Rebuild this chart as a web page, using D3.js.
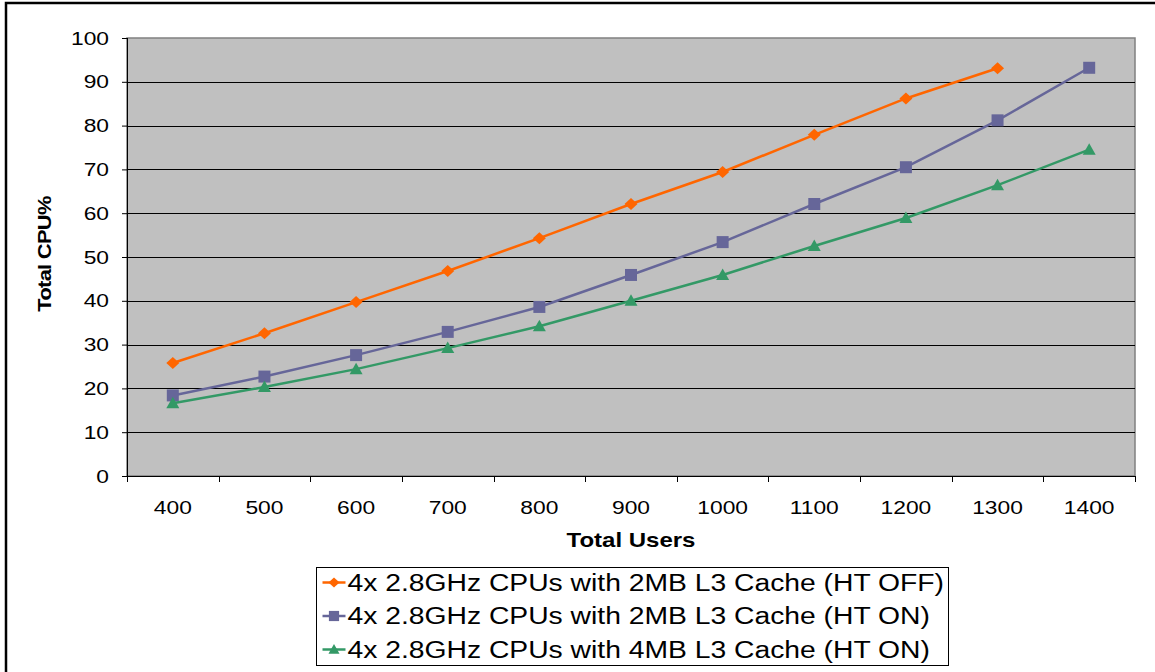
<!DOCTYPE html>
<meta charset="utf-8">
<head>
	<title>Total CPU% vs Total Users</title>
</head>
<style>
	body { margin: 0; background: #fff; }
	svg text { font-family: Arial, "Liberation Sans", sans-serif; fill: #000; }
</style>
<body>
	<svg width="1155" height="672"></svg>
	<script src="https://cdnjs.cloudflare.com/ajax/libs/d3/7.8.5/d3.min.js"></script>
	<script>

		var users = [400, 500, 600, 700, 800, 900, 1000, 1100, 1200, 1300, 1400];
		var yTicks = [0, 10, 20, 30, 40, 50, 60, 70, 80, 90, 100];

		var seriesNames = [
			"4x 2.8GHz CPUs with 2MB L3 Cache (HT OFF)",
			"4x 2.8GHz CPUs with 2MB L3 Cache (HT ON)",
			"4x 2.8GHz CPUs with 4MB L3 Cache (HT ON)"
		];
		var htOff2MB = [25.8, 32.6, 39.7, 46.8, 54.3, 62.1, 69.4, 77.9, 86.2, 93.1, null];
		var htOn2MB  = [18.4, 22.7, 27.6, 32.9, 38.6, 45.9, 53.4, 62.1, 70.5, 81.2, 93.2];
		var htOn4MB  = [16.6, 20.3, 24.4, 29.2, 34.2, 40.0, 45.9, 52.5, 58.9, 66.4, 74.5];

		var colors = ["#ff6600", "#666699", "#339966"];
		// marker shapes: diamond, square, triangle
		var markers = [
			"M0,-6L6.5,0L0,6L-6.5,0Z",
			"M-6,-6H6V6H-6Z",
			"M0,-6.5L6.5,5L-6.5,5Z"
		];

		var svg = d3.select("svg"),
			margin = {top: 38, left: 127},
			width = 1008,
			height = 438,
			sx = 1.2; // the original text is drawn a bit wide

		// outer chart frame (runs past the window edges)
		svg.append("rect")
			.attr("x", 6).attr("y", 3)
			.attr("width", 1300).attr("height", 800)
			.attr("fill", "none")
			.attr("stroke", "#000")
			.attr("stroke-width", 2.5);

		var g = svg.append("g")
			.attr("transform", "translate(" + margin.left + "," + margin.top + ")");

		var x = d3.scaleBand()
			.domain(users)
			.range([0, width]);

		var y = d3.scaleLinear()
			.domain([0, 100])
			.range([height, 0]);

		// plot area
		g.append("rect")
			.attr("width", width)
			.attr("height", height)
			.attr("fill", "#c0c0c0")
			.attr("stroke", "#808080")
			.attr("stroke-width", 1.5);

		// gridlines
		yTicks.slice(1, -1).forEach(function(t) {
			g.append("line")
				.attr("x1", 0).attr("x2", width)
				.attr("y1", Math.round(y(t)) + 0.5).attr("y2", Math.round(y(t)) + 0.5)
				.attr("stroke", "#000")
				.attr("stroke-width", 1);
		});

		// y axis
		var yAxis = g.append("g")
			.call(d3.axisLeft(y).tickValues(yTicks).tickSize(5).tickPadding(10));
		yAxis.attr("font-size", 19).attr("font-family", null);
		yAxis.select(".domain").attr("stroke", "#000").attr("d", "M0.5,0V" + height);
		yAxis.selectAll(".tick line").attr("stroke", "#000");
		yAxis.selectAll("text")
			.attr("fill", "#000")
			.attr("transform", "scale(" + sx + ",1)");

		// x axis (ticks between categories)
		var xAxisG = g.append("g")
			.attr("transform", "translate(0," + height + ")");
		xAxisG.append("line")
			.attr("x1", 0).attr("x2", width)
			.attr("y1", 0.5).attr("y2", 0.5)
			.attr("stroke", "#000");
		d3.range(users.length + 1).forEach(function(i) {
			var xp = Math.round(i * x.bandwidth()) + 0.5;
			xAxisG.append("line")
				.attr("x1", xp).attr("x2", xp)
				.attr("y1", 0).attr("y2", 6)
				.attr("stroke", "#000");
		});
		users.forEach(function(u) {
			xAxisG.append("text")
				.attr("transform", "translate(" + (x(u) + x.bandwidth() / 2) + ",38) scale(" + sx + ",1)")
				.attr("text-anchor", "middle")
				.attr("font-size", 19)
				.text(u);
		});

		// axis titles
		svg.append("text")
			.attr("transform", "translate(631,547) scale(" + sx + ",1)")
			.attr("text-anchor", "middle")
			.attr("font-size", 20)
			.attr("font-weight", "bold")
			.text("Total Users");

		svg.append("text")
			.attr("transform", "translate(51,254) rotate(-90) scale(1.15,1)")
			.attr("text-anchor", "middle")
			.attr("font-size", 19)
			.attr("font-weight", "bold")
			.attr("letter-spacing", -0.6)
			.text("Total CPU%");

		// series
		var allSeries = [htOff2MB, htOn2MB, htOn4MB];
		var line = d3.line()
			.defined(function(d) { return d != null; })
			.x(function(d, i) { return x(users[i]) + x.bandwidth() / 2; })
			.y(function(d) { return y(d); });

		allSeries.forEach(function(vals, s) {
			g.append("path")
				.attr("d", line(vals))
				.attr("fill", "none")
				.attr("stroke", colors[s])
				.attr("stroke-width", 2.5);

			vals.forEach(function(v, i) {
				if (v == null) return;
				g.append("path")
					.attr("d", markers[s])
					.attr("transform", "translate(" + (x(users[i]) + x.bandwidth() / 2) + "," + y(v) + ")")
					.attr("fill", colors[s]);
			});
		});

		// legend
		var legend = svg.append("g")
			.attr("transform", "translate(316.5,567.5)");
		legend.append("rect")
			.attr("width", 632)
			.attr("height", 98)
			.attr("fill", "#fff")
			.attr("stroke", "#000")
			.attr("stroke-width", 1);

		seriesNames.forEach(function(name, s) {
			var ly = 15 + s * 33.5;
			legend.append("line")
				.attr("x1", 6).attr("x2", 29)
				.attr("y1", ly).attr("y2", ly)
				.attr("stroke", colors[s])
				.attr("stroke-width", 2.5);
			legend.append("path")
				.attr("d", markers[s])
				.attr("transform", "translate(17.5," + ly + ") scale(0.85)")
				.attr("fill", colors[s]);
			legend.append("text")
				.attr("transform", "translate(31," + (ly + 8) + ") scale(1.23,1)")
				.attr("font-size", 23)
				.text(name);
		});

	</script>
</body>
</html>
